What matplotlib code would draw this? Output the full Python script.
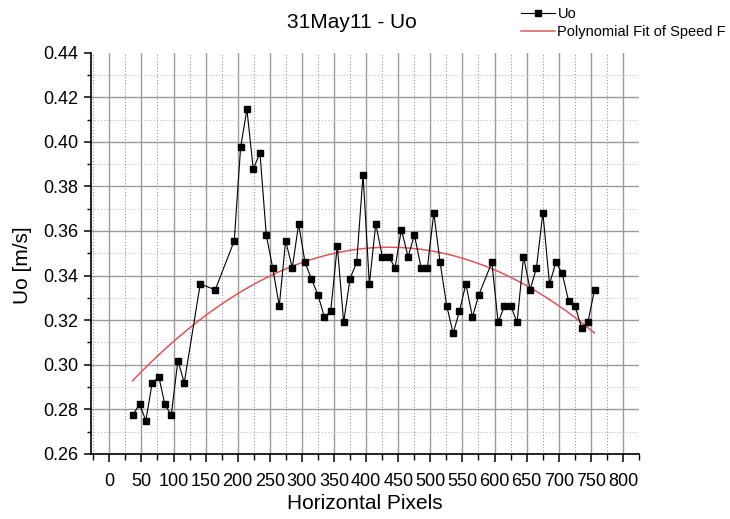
import numpy as np
import matplotlib
matplotlib.use("Agg")
import matplotlib.pyplot as plt
from matplotlib.ticker import MultipleLocator

plt.rcParams['font.family'] = ['Liberation Sans', 'DejaVu Sans']

# Horizontal pixel position of each sample
pixels = [36.2, 47.1, 56.9, 66.8, 77.2, 86.5, 96.4, 106.8, 116.7,
          141.6, 165.0, 194.6,
          204.5, 214.3, 224.2, 234.6, 244.5, 254.4, 264.7, 274.6, 285.0, 294.9,
          304.8, 314.6, 325.0, 334.9, 344.8, 355.1, 365.0, 374.9, 385.3, 395.2,
          405.0, 415.0, 425.3, 435.2, 445.0, 454.9, 465.3, 475.2, 485.6, 495.4,
          505.4, 515.2, 525.6, 535.5, 545.3, 555.3, 565.6, 575.5,
          595.8, 605.6, 615.5, 625.4, 635.2, 645.1, 655.5, 665.3, 675.3, 685.6,
          695.6, 705.4, 715.2, 725.6, 735.5, 745.4, 755.7]

# Speed Uo in m/s
uo = [0.2773, 0.2822, 0.2749, 0.2919, 0.2945, 0.2822, 0.2773, 0.3018, 0.2919,
      0.3362, 0.3336, 0.3556,
      0.3975, 0.4146, 0.3877, 0.3951, 0.3582, 0.3435, 0.3263, 0.3556, 0.3435, 0.3631,
      0.3459, 0.3386, 0.3313, 0.3214, 0.3239, 0.3534, 0.3190, 0.3386, 0.3459, 0.3852,
      0.3362, 0.3631, 0.3485, 0.3485, 0.3435, 0.3606, 0.3485, 0.3582, 0.3435, 0.3435,
      0.3681, 0.3459, 0.3263, 0.3141, 0.3239, 0.3362, 0.3214, 0.3313,
      0.3459, 0.3190, 0.3263, 0.3263, 0.3190, 0.3485, 0.3336, 0.3435, 0.3681, 0.3362,
      0.3459, 0.3410, 0.3287, 0.3263, 0.3165, 0.3190, 0.3336]

# Second-order polynomial fit coefficients (highest power first)
fit_coef = [-3.757e-7, 3.2731e-4, 0.28141]

x_ticks = list(range(0, 801, 50))
y_ticks = [0.26, 0.28, 0.30, 0.32, 0.34, 0.36, 0.38, 0.40, 0.42, 0.44]

fig = plt.figure(figsize=(7.30, 5.19), dpi=100)
ax = fig.add_axes([90.7 / 730, 65.2 / 519, (639 - 90.7) / 730, (453.8 - 52.7) / 519])

ax.set_xlim(-29, 825)
ax.set_ylim(0.26, 0.44)
ax.set_xticks(x_ticks)
ax.set_xticklabels([str(t) for t in x_ticks])
ax.set_yticks(y_ticks)
ax.set_yticklabels([f"{t:.2f}" for t in y_ticks])
ax.xaxis.set_minor_locator(MultipleLocator(25))
ax.yaxis.set_minor_locator(MultipleLocator(0.01))

# grid: solid majors, dotted minors
ax.grid(which='major', axis='both', color='#9a9a9a', linewidth=1.0, linestyle='-')
ax.grid(which='minor', axis='x', color='#8c8cd2', linewidth=0.7, linestyle=(0, (1.2, 2.0)))
ax.grid(which='minor', axis='y', color='#bdbdbd', linewidth=0.7, linestyle=(0, (1.2, 2.0)))
ax.set_axisbelow(True)

for side in ('top', 'right'):
    ax.spines[side].set_visible(False)
for side in ('left', 'bottom'):
    ax.spines[side].set_linewidth(1.2)
    ax.spines[side].set_color('black')

ax.tick_params(axis='both', which='major', direction='out', length=5, width=1.1,
               labelsize=13, colors='black')
ax.tick_params(axis='both', which='minor', direction='out', length=3, width=1.0)
ax.tick_params(axis='x', which='major', length=6, pad=8)
ax.tick_params(axis='x', which='minor', length=4)
ax.tick_params(axis='y', which='major', pad=4)

ax.plot(pixels, uo, color='black', linewidth=0.8, marker='s', markersize=3.8,
        markerfacecolor='black', markeredgecolor='black', label='Uo', zorder=4)

xf = np.linspace(min(pixels), max(pixels), 300)
ax.plot(xf, np.polyval(fit_coef, xf), color='#e05555', linewidth=1.1,
        label='Polynomial Fit of Speed F', zorder=3)

ax.set_xlabel('Horizontal Pixels', fontsize=15, labelpad=2.5)
ax.set_ylabel('Uo [m/s]', fontsize=15)
ax.yaxis.set_label_coords(-0.107, 0.47)

fig.text(351.5 / 730, 1 - 23 / 519, '31May11 - Uo', fontsize=15,
         ha='center', va='center')

fig.legend(loc='upper left', bbox_to_anchor=(521 / 730, 1 - 7 / 519),
           bbox_transform=fig.transFigure, frameon=False, fontsize=10.5,
           handlelength=2.3, handletextpad=0.2, borderpad=0, borderaxespad=0,
           labelspacing=0.3)

fig.canvas.draw()
# no gridline along the top edge of the plot
ax.yaxis.get_gridlines()[-1].set_visible(False)

fig.savefig('out.png', dpi=100)
